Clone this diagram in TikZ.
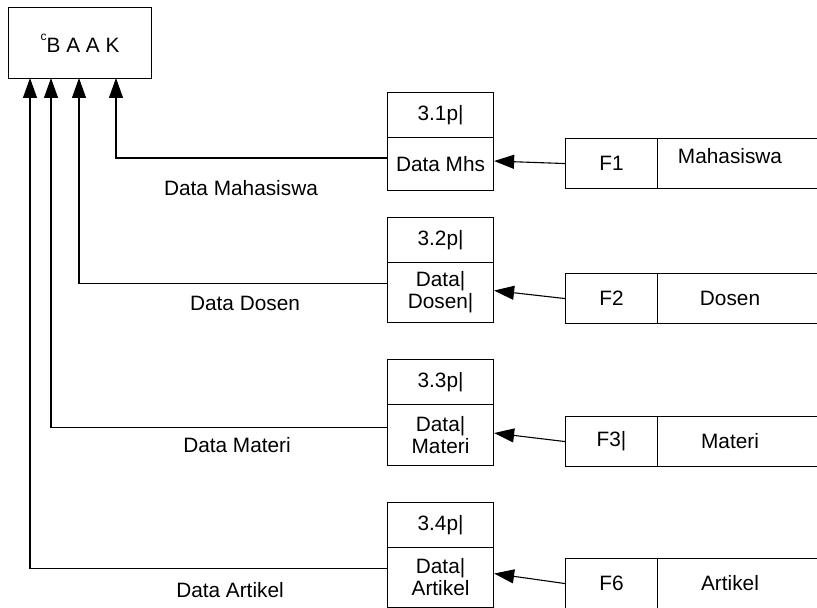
\documentclass[tikz,border=0pt]{standalone}
\usepackage{fontspec}
\setmainfont{Liberation Sans}
\usetikzlibrary{arrows.meta}
\begin{document}
\begin{tikzpicture}[x=0.5pt,y=-0.5pt,
  line width=0.55pt,
  every node/.style={font=\fontsize{10.4pt}{11pt}\selectfont},
  cell/.style={draw, inner sep=0pt, anchor=north west, align=center},
  pbox/.style={cell, minimum width=53pt},
  fbox/.style={cell, minimum height=25pt},
  flow/.style={-{Triangle[length=10pt,width=7pt]}},
  lbl/.style={inner sep=0pt}]
\clip (0,0) rectangle (817,608);

% external entity
\node[cell, minimum width=71.5pt, minimum height=35.5pt] (B) at (8,7)
  {\raisebox{1.1ex}{\fontsize{6pt}{6pt}\selectfont c}B A A K};

% inlet points on the bottom edge of BAAK
\coordinate (in1) at (116,78);
\coordinate (in2) at (79,78);
\coordinate (in3) at (51,78);
\coordinate (in4) at (30,78);

% processes
\node[pbox, minimum height=22.5pt] (P1a) at (387,92) {3.1p|};
\node[pbox, minimum height=26.5pt] (P1b) at (387,137) {Data Mhs};
\node[pbox, minimum height=22.5pt] (P2a) at (387,217) {3.2p|};
\node[pbox, minimum height=30pt] (P2b) at (387,262) {Data|\\Dosen|};
\node[pbox, minimum height=22.5pt] (P3a) at (387,359) {3.3p|};
\node[pbox, minimum height=30.5pt] (P3b) at (387,404) {Data|\\Materi};
\node[pbox, minimum height=22.5pt] (P4a) at (387,502) {3.4p|};
\node[pbox, minimum height=30pt] (P4b) at (387,547) {Data|\\Artikel};

% data stores
\node[fbox, minimum width=46pt] (F1) at (565,138) {F1};
\node[fbox, minimum width=90pt] (S1) at (657,138) {};
\node[lbl] (S1t) at (730,156) {Mahasiswa};
\node[fbox, minimum width=46pt] (F2) at (565,273) {F2};
\node[fbox, minimum width=90pt] (S2) at (657,273) {};
\node[lbl] (S2t) at (730,298) {Dosen};
\node[fbox, minimum width=46pt] (F3) at (565,416) {F3|};
\node[fbox, minimum width=90pt] (S3) at (657,416) {};
\node[lbl] (S3t) at (730,441) {Materi};
\node[fbox, minimum width=46pt] (F6) at (565,558) {F6};
\node[fbox, minimum width=90pt] (S6) at (657,558) {};
\node[lbl] (S6t) at (730,583) {Artikel};

% flows from the stores into the processes
\draw[flow] (F1.west) -- ([yshift=1.5pt]P1b.east);
\draw[flow] (F2.west) -- ([yshift=1pt]P2b.east);
\draw[flow] (F3.west) -- ([yshift=1pt]P3b.east);
\draw[flow] (F6.west) -- ([yshift=2pt]P4b.east);

% flows from the processes up to BAAK
\draw[flow] ([yshift=3pt]P1b.west) -| (in1);
\draw[flow] ([yshift=4.5pt]P2b.west) -| (in2);
\draw[flow] ([yshift=4pt]P3b.west) -| (in3);
\draw[flow] ([yshift=4.5pt]P4b.west) -| (in4);

% flow labels
\node[lbl] (L1) at (241,188) {Data Mahasiswa};
\node[lbl] (L2) at (245,303) {Data Dosen};
\node[lbl] (L3) at (237,445) {Data Materi};
\node[lbl] (L4) at (230,590) {Data Artikel};
\end{tikzpicture}
\end{document}
